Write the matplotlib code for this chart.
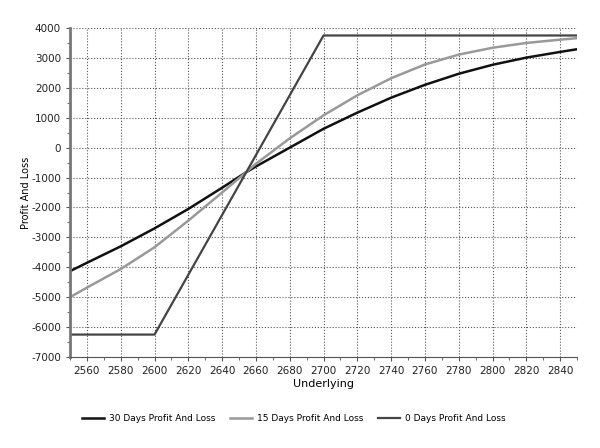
import numpy as np
import matplotlib
matplotlib.use('Agg')
import matplotlib.pyplot as plt
from matplotlib.ticker import MultipleLocator, AutoMinorLocator

matplotlib.rcParams.update({'font.size': 7.5, 'axes.unicode_minus': False,
                            'font.family': 'DejaVu Sans'})

# underlying prices and P&L
px_30 = [2550, 2560, 2580, 2600, 2620, 2640, 2654, 2660, 2680, 2700, 2720,
         2740, 2760, 2780, 2800, 2820, 2840, 2850]
pl_30 = [-4130, -3850, -3300, -2700, -2050, -1340, -830, -630, 0, 630, 1170,
         1670, 2100, 2470, 2770, 3010, 3200, 3290]

px_15 = [2550, 2560, 2580, 2600, 2620, 2640, 2654, 2660, 2680, 2700, 2720,
         2740, 2760, 2780, 2800, 2820, 2840, 2850]
pl_15 = [-5000, -4680, -4060, -3330, -2440, -1500, -830, -540, 310, 1080, 1750,
         2320, 2780, 3110, 3340, 3500, 3610, 3660]

px_0 = [2550, 2600, 2700, 2850]
pl_0 = [-6250, -6250, 3750, 3750]

fig = plt.figure(figsize=(6, 4.48), dpi=100)
ax = fig.add_axes([0.1167, 0.2031, 0.845, 0.7344])

ax.plot(px_30, pl_30, color='#111111', lw=1.8, label='30 Days Profit And Loss')
ax.plot(px_15, pl_15, color='#999999', lw=1.8, label='15 Days Profit And Loss')
ax.plot(px_0, pl_0, color='#444444', lw=1.6, label='0 Days Profit And Loss')

ax.set_xlim(2550, 2850)
ax.set_ylim(-7000, 4000)
ax.xaxis.set_major_locator(MultipleLocator(20))
ax.xaxis.set_minor_locator(AutoMinorLocator(2))
ax.yaxis.set_major_locator(MultipleLocator(1000))
ax.yaxis.set_minor_locator(AutoMinorLocator(2))
ax.grid(True, which='major', ls=':', color='#555555', lw=0.8)
ax.set_axisbelow(True)

for s in ['top', 'right']:
    ax.spines[s].set_visible(False)
ax.spines['left'].set_color('#777777')
ax.spines['left'].set_linewidth(2)
ax.spines['bottom'].set_color('#555555')
ax.tick_params(which='both', color='#555555', length=3, labelcolor='#222222')
ax.tick_params(which='minor', length=2)

ax.set_xlabel('Underlying', fontsize=8, labelpad=2)
ax.set_ylabel('Profit And Loss', fontsize=7, labelpad=0)

fig.legend(loc='center', bbox_to_anchor=(0.49, 0.066), ncol=3, frameon=False,
           handlelength=2.4, handletextpad=0.6, columnspacing=1.6, fontsize=6.5)

fig.savefig('out.png', dpi=100)
